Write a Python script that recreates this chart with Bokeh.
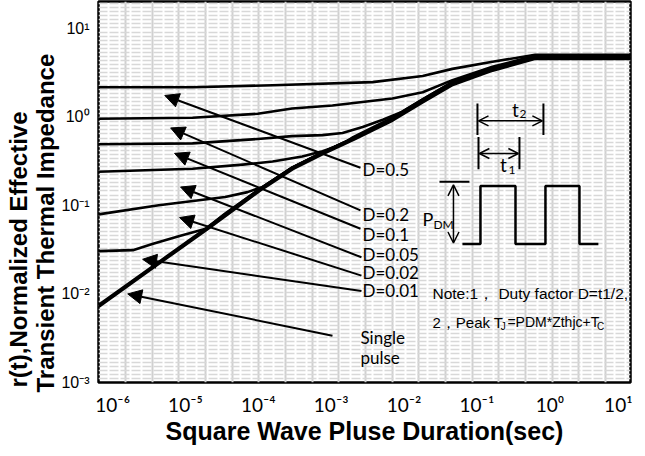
from bokeh.plotting import figure
from bokeh.models import (FixedTicker, CustomJSTickFormatter, Arrow, NormalHead,
                          OpenHead, Label, Title)
from bokeh.embed import file_html
from bokeh.resources import INLINE

# ---------------- data (pulse duration in s, normalized r(t)) ----------------
d05_t = [6.4e-7, 1.25e-5, 1.57e-4, 3.7e-3, 1.8e-2, 4.6e-2, 0.163, 0.63, 12.8]
d05_r = [2.15, 2.15, 2.27, 2.46, 2.88, 3.47, 4.18, 5.0, 5.0]

d02_t = [6.4e-7, 1.25e-5, 9.8e-5, 2.9e-4, 1.04e-3, 6.9e-3, 1.8e-2, 4.6e-2, 0.163, 0.63, 12.8]
d02_r = [0.95, 0.975, 1.08, 1.24, 1.34, 1.61, 1.89, 2.59, 3.66, 4.9, 4.9]

d01_t = [6.4e-7, 1.25e-5, 9.8e-5, 2.9e-4, 7.6e-4, 1.43e-3, 2.7e-3, 5.1e-3, 9.5e-3,
         1.8e-2, 4.6e-2, 0.163, 0.63, 12.8]
d01_r = [0.49, 0.50, 0.56, 0.605, 0.62, 0.655, 0.767, 0.925, 1.14, 1.57, 2.46, 3.47, 4.8, 4.8]

d005_t = [6.4e-7, 1.25e-5, 6.1e-5, 1.57e-4, 4.0e-4, 7.6e-4, 1.43e-3, 2.0e-3, 6.9e-3,
          1.8e-2, 4.6e-2, 0.163, 0.63, 12.8]
d005_r = [0.239, 0.259, 0.288, 0.312, 0.356, 0.407, 0.49, 0.589, 0.975, 1.57, 2.46, 3.47, 4.75, 4.75]

d002_t = [6.4e-7, 4.3e-6, 3.5e-5, 7.1e-5, 1.14e-4, 2.9e-4, 7.6e-4, 2.0e-3, 6.9e-3,
          1.8e-2, 4.6e-2, 0.163, 0.63, 12.8]
d002_r = [0.079, 0.100, 0.124, 0.141, 0.161, 0.267, 0.396, 0.574, 0.95, 1.53, 2.39, 3.47, 4.7, 4.7]

d001_t = [6.4e-7, 1.9e-6, 3.5e-6, 8.3e-6, 1.9e-5, 3.5e-5, 1.04e-4, 2.9e-4, 7.6e-4, 2.0e-3,
          6.9e-3, 1.8e-2, 4.6e-2, 0.163, 0.63, 12.8]
d001_r = [0.0304, 0.0312, 0.0366, 0.0452, 0.0544, 0.0809, 0.153, 0.267, 0.396, 0.574,
          0.95, 1.53, 2.39, 3.47, 4.65, 4.65]

single_t = [6.4e-7, 4.4e-6, 2.14e-5, 1.04e-4, 2.9e-4, 7.6e-4, 2.0e-3, 6.9e-3, 1.8e-2,
            4.6e-2, 0.163, 0.63, 12.8]
single_r = [0.0073, 0.0227, 0.0574, 0.149, 0.259, 0.385, 0.558, 0.925, 1.49, 2.33, 3.38, 4.6, 4.6]

x_ticks = [1e-6, 1e-5, 1e-4, 1e-3, 1e-2, 1e-1, 1e0, 1e1]
y_ticks = [1e-3, 1e-2, 1e-1, 1e0, 1e1]

duty_labels = ["D=0.5", "D=0.2", "D=0.1", "D=0.05", "D=0.02", "D=0.01"]

x_title = "Square Wave Pluse Duration(sec)"
y_title_1 = "r(t),Normalized Effective"
y_title_2 = "Transient Thermal Impedance"

# ---------------- figure ----------------
p = figure(width=632, height=448, x_axis_type="log", y_axis_type="log",
           x_range=(6.4e-7, 12.8), y_range=(1e-3, 20),
           output_backend="svg", toolbar_location=None,
           min_border_left=98, min_border_right=2, min_border_top=1, min_border_bottom=66)

p.background_fill_color = "white"
p.outline_line_color = "black"
p.outline_line_width = 2.5

fmt = CustomJSTickFormatter(code="""
const sup = {"-":"\u207b","0":"\u2070","1":"\u00b9","2":"\u00b2","3":"\u00b3","4":"\u2074",
             "5":"\u2075","6":"\u2076","7":"\u2077","8":"\u2078","9":"\u2079"};
const e = Math.round(Math.log10(tick));
return "10" + String(e).split("").map(c => sup[c]).join("");
""")

p.xaxis.ticker = FixedTicker(ticks=x_ticks)
p.yaxis.ticker = FixedTicker(ticks=y_ticks)
p.xaxis.formatter = fmt
p.yaxis.formatter = fmt
for ax in (p.xaxis, p.yaxis):
    ax.axis_line_color = None
    ax.major_tick_line_color = None
    ax.minor_tick_line_color = None
    ax.major_label_text_color = "black"

p.xaxis.major_label_text_font = "Lato"
p.xaxis.major_label_text_font_size = "19px"
p.xaxis.major_label_standoff = 4

p.yaxis.major_label_text_font = "Liberation Sans"
p.yaxis.major_label_text_font_size = "16px"
p.yaxis.major_label_standoff = 3

# axis titles as side-panel titles
p.add_layout(Title(text=x_title, align="center", text_font="Liberation Sans",
                   text_font_style="bold", text_font_size="25px", text_color="black",
                   standoff=-8), "below")
p.add_layout(Title(text=y_title_2, align="left", text_font="Liberation Sans",
                   text_font_style="bold", text_font_size="24px", text_color="black",
                   standoff=0, offset=-10), "left")
p.add_layout(Title(text=y_title_1, align="left", text_font="Liberation Sans",
                   text_font_style="bold", text_font_size="24px", text_color="black",
                   standoff=-4, offset=-5), "left")

# background grid texture
vgrid = [10 ** (-5.822 + 0.3658 * k) for k in range(19)]
hgrid = [10 ** (-3 + 0.046 * k) for k in range(1, 94)]
p.xgrid.ticker = FixedTicker(ticks=vgrid)
p.xgrid.grid_line_color = "#d0d0d0"
p.xgrid.grid_line_width = 2
p.ygrid.ticker = FixedTicker(ticks=hgrid)
p.ygrid.grid_line_color = "#d8d8d8"
p.ygrid.grid_line_width = 1.5
p.ygrid.grid_line_dash = "9 2"

# ---------------- curves ----------------
for tt, rr in [(d05_t, d05_r), (d02_t, d02_r), (d01_t, d01_r),
               (d005_t, d005_r), (d002_t, d002_r), (d001_t, d001_r)]:
    p.line(tt, rr, line_color="black", line_width=2.6, line_join="round")
p.line(single_t, single_r, line_color="black", line_width=4.2, line_join="round")

# ---------------- arrows + labels ----------------
arrow_tail_t = [2.52e-3, 2.52e-3, 2.52e-3, 2.6e-3, 2.6e-3, 2.6e-3, 1.04e-3]
arrow_tail_r = [0.266, 0.0877, 0.0544, 0.0259, 0.0161, 0.0108, 0.00338]
arrow_tip_t = [5.2e-6, 6.25e-6, 7.08e-6, 8.56e-6, 8.3e-6, 2.58e-6, 1.61e-6]
arrow_tip_r = [1.74, 0.748, 0.386, 0.161, 0.0728, 0.0246, 0.01]
for xs, ys, xe, ye in zip(arrow_tail_t, arrow_tail_r, arrow_tip_t, arrow_tip_r):
    p.add_layout(Arrow(end=NormalHead(size=14, fill_color="black", line_color="black"),
                       x_start=xs, y_start=ys, x_end=xe, y_end=ye,
                       line_color="black", line_width=2))

label_r = [0.252, 0.0788, 0.0464, 0.0281, 0.0174, 0.0108]
for txt, ry in zip(duty_labels, label_r):
    p.add_layout(Label(x=2.69e-3, y=ry, text=txt, text_font="Lato", text_font_size="17px",
                       text_baseline="middle", text_align="left", text_color="black"))
p.add_layout(Label(x=2.52e-3, y=0.00321, text="Single", text_font="Lato", text_font_size="17px",
                   text_baseline="middle", text_color="black"))
p.add_layout(Label(x=2.52e-3, y=0.00194, text="pulse", text_font="Lato", text_font_size="17px",
                   text_baseline="middle", text_color="black"))

# ---------------- notes ----------------
p.add_layout(Label(x=0.0245, y=0.01, text="Note:1\uff0c  Duty factor D=t1/2,",
                   text_font="Liberation Sans", text_font_size="15.5px",
                   text_baseline="alphabetic", text_color="black"))
p.add_layout(Label(x=0.0245, y=0.00476, text="2\uff0cPeak T",
                   text_font="Liberation Sans", text_font_size="15px",
                   text_baseline="alphabetic", text_color="black"))
p.add_layout(Label(x=0.212, y=0.00428, text="J", text_font="Liberation Sans",
                   text_font_size="10px", text_baseline="alphabetic", text_color="black"))
p.add_layout(Label(x=0.262, y=0.00476, text="=PDM*Zthjc+T", text_font="Liberation Sans",
                   text_font_size="14px", text_baseline="alphabetic", text_color="black"))
p.add_layout(Label(x=4.45, y=0.00428, text="C", text_font="Liberation Sans",
                   text_font_size="10px", text_baseline="alphabetic", text_color="black"))

# ---------------- pulse-train schematic ----------------
pulse_t = [0.0632, 0.1117, 0.1117, 0.338, 0.338, 0.871, 0.871, 2.55, 2.55, 4.64]
pulse_r = [0.0366, 0.0366, 0.165, 0.165, 0.0366, 0.0366, 0.165, 0.165, 0.0366, 0.0366]
p.line(pulse_t, pulse_r, line_color="black", line_width=2.5)
# P_DM top bar
p.segment(x0=[0.0306], y0=[0.184], x1=[0.0788], y1=[0.184], line_color="black", line_width=2)
# t1 / t2 marker bars
p.segment(x0=[0.105, 0.383, 0.1016, 0.817], y0=[0.589, 0.589, 1.41, 1.41],
          x1=[0.105, 0.383, 0.1016, 0.817], y1=[0.255, 0.255, 0.621, 0.621],
          line_color="black", line_width=2)
p.add_layout(Arrow(start=OpenHead(size=11, line_width=1.5), end=OpenHead(size=11, line_width=1.5),
                   x_start=0.0476, y_start=0.0376, x_end=0.0476, y_end=0.170,
                   line_color="black", line_width=1.5))
p.add_layout(Arrow(start=OpenHead(size=10, line_width=1.5), end=OpenHead(size=10, line_width=1.5),
                   x_start=0.108, y_start=0.385, x_end=0.37, y_end=0.385,
                   line_color="black", line_width=1.5))
p.add_layout(Arrow(start=OpenHead(size=10, line_width=1.5), end=OpenHead(size=10, line_width=1.5),
                   x_start=0.105, y_start=0.90, x_end=0.79, y_end=0.90,
                   line_color="black", line_width=1.5))
p.add_layout(Label(x=0.01786, y=0.0709, text="P", text_font="Lato", text_font_size="18px",
                   text_baseline="middle", text_color="black"))
p.add_layout(Label(x=0.0253, y=0.0605, text="DM", text_font="Lato", text_font_size="12px",
                   text_baseline="middle", text_color="black"))
p.add_layout(Label(x=0.338, y=1.20, text="t", text_font="Lato", text_font_size="19px",
                   text_baseline="middle", text_align="center", text_color="black"))
p.add_layout(Label(x=0.383, y=1.08, text="2", text_font="Lato", text_font_size="12px",
                   text_baseline="middle", text_color="black"))
p.add_layout(Label(x=0.231, y=0.288, text="t", text_font="Lato", text_font_size="19px",
                   text_baseline="middle", text_align="center", text_color="black"))
p.add_layout(Label(x=0.270, y=0.252, text="1", text_font="Lato", text_font_size="12px",
                   text_baseline="middle", text_color="black"))

open("out.html", "w").write(file_html(p, INLINE))
